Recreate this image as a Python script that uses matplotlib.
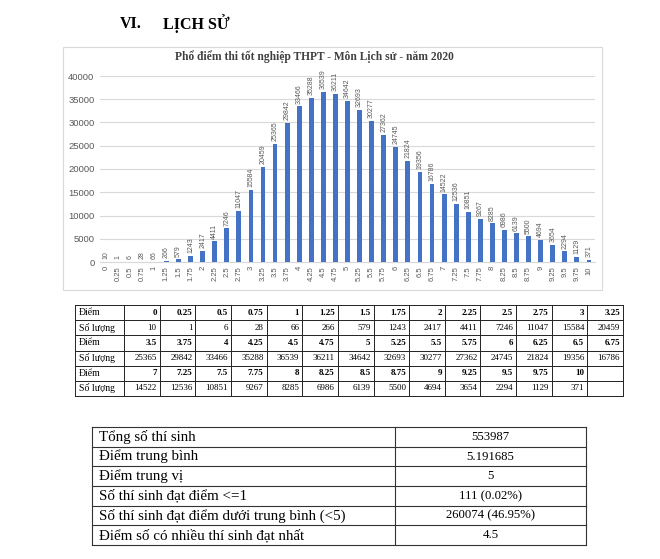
import matplotlib.pyplot as plt
from matplotlib.patches import Rectangle

# score distribution, history exam 2020
scores = ["0", "0.25", "0.5", "0.75", "1", "1.25", "1.5", "1.75", "2", "2.25",
          "2.5", "2.75", "3", "3.25", "3.5", "3.75", "4", "4.25", "4.5", "4.75",
          "5", "5.25", "5.5", "5.75", "6", "6.25", "6.5", "6.75", "7", "7.25",
          "7.5", "7.75", "8", "8.25", "8.5", "8.75", "9", "9.25", "9.5", "9.75", "10"]
counts = [10, 1, 6, 28, 66, 266, 579, 1243, 2417, 4411,
          7246, 11047, 15584, 20459, 25365, 29842, 33466, 35288, 36539, 36211,
          34642, 32693, 30277, 27362, 24745, 21824, 19356, 16786, 14522, 12536,
          10851, 9267, 8285, 6986, 6139, 5500, 4694, 3654, 2294, 1129, 371]

summary_labels = ["Tổng số thí sinh", "Điểm trung bình", "Điểm trung vị",
                  "Số thí sinh đạt điểm <=1",
                  "Số thí sinh đạt điểm dưới trung bình (<5)",
                  "Điểm số có nhiều thí sinh đạt nhất"]
summary_values = ["553987", "5.191685", "5", "111 (0.02%)", "260074 (46.95%)", "4.5"]

W, H = 660, 559
serif = ["Liberation Serif", "DejaVu Serif"]
sans = ["Liberation Sans", "DejaVu Sans"]

fig = plt.figure(figsize=(W / 100, H / 100), dpi=100)
# page overlay in pixel coordinates
bg = fig.add_axes([0, 0, 1, 1])
bg.set_xlim(0, W)
bg.set_ylim(H, 0)
bg.axis("off")

bg.text(120, 24, "VI.", family=serif, fontsize=11.5, weight="bold", va="center")
bg.text(163, 24, "LỊCH SỬ", family=serif, fontsize=11.5, weight="bold", va="center")

# chart frame + title
bg.add_patch(Rectangle((63, 47), 539, 243, fill=False, ec="#d9d9d9", lw=0.8))
bg.text(314, 57, "Phổ điểm thi tốt nghiệp THPT - Môn Lịch sử - năm 2020",
        family=serif, fontsize=8.3, weight="bold", color="#404040",
        ha="center", va="center")

ax = fig.add_axes([100 / W, 1 - 262 / H, 495 / W, 186 / H])
x = list(range(len(counts)))
ax.bar(x, counts, width=0.4, color="#4472c4", zorder=3)
ax.set_xlim(-0.5, len(counts) - 0.5)
ax.set_ylim(0, 40000)
ax.set_yticks(range(0, 40001, 5000))
ax.set_xticks(x, scores, rotation=90)
ax.grid(axis="y", color="#d9d9d9", lw=0.8, zorder=0)
for side in ["top", "left", "right"]:
    ax.spines[side].set_visible(False)
ax.spines["bottom"].set_color("#d9d9d9")
ax.tick_params(length=0, colors="#595959")
ax.tick_params(axis="y", labelsize=6.8, pad=4)
ax.tick_params(axis="x", labelsize=5.5, pad=3)
for lbl in ax.get_xticklabels() + ax.get_yticklabels():
    lbl.set_family(sans)
for xi, c in zip(x, counts):
    ax.annotate(str(c), (xi, c), xytext=(0, 2), textcoords="offset points",
                rotation=90, ha="center", va="bottom", fontsize=5,
                color="#595959", family=sans)

# score/count table
t_left, t_first, t_right = 75, 124, 623
t_top, t_bot = 305, 396
ncol = 14
cw = (t_right - t_first) / ncol
rh = (t_bot - t_top) / 6
for i in range(7):
    bg.plot([t_left, t_right], [t_top + i * rh] * 2, color="#222222", lw=0.7)
for xv in [t_left, t_first] + [t_first + j * cw for j in range(1, ncol + 1)]:
    bg.plot([xv, xv], [t_top, t_bot], color="#222222", lw=0.7)
for r in range(3):
    chunk_s = scores[r * ncol:(r + 1) * ncol]
    chunk_c = counts[r * ncol:(r + 1) * ncol]
    y1 = t_top + (2 * r + 0.5) * rh
    y2 = t_top + (2 * r + 1.5) * rh
    bg.text(t_left + 4, y1, "Điểm", family=serif, fontsize=7, va="center")
    bg.text(t_left + 4, y2, "Số lượng", family=serif, fontsize=7, va="center")
    for j, (s, c) in enumerate(zip(chunk_s, chunk_c)):
        xr = t_first + (j + 1) * cw - 3
        bg.text(xr, y1, s, family=serif, fontsize=6.5, weight="bold",
                ha="right", va="center")
        bg.text(xr, y2, str(c), family=serif, fontsize=6.5,
                ha="right", va="center")

# summary table
s_left, s_mid, s_right = 92, 395, 586
s_top, s_bot = 427, 545
sh = (s_bot - s_top) / len(summary_labels)
for i in range(len(summary_labels) + 1):
    bg.plot([s_left, s_right], [s_top + i * sh] * 2, color="#333333", lw=0.8)
for xv in [s_left, s_mid, s_right]:
    bg.plot([xv, xv], [s_top, s_bot], color="#333333", lw=0.8)
for i, (lab, val) in enumerate(zip(summary_labels, summary_values)):
    yc = s_top + (i + 0.5) * sh
    bg.text(s_left + 7, yc, lab, family=serif, fontsize=10.8, va="center")
    bg.text((s_mid + s_right) / 2, yc, val, family=serif, fontsize=9.2,
            ha="center", va="center")

fig.savefig("out.png", dpi=100, facecolor="white")
